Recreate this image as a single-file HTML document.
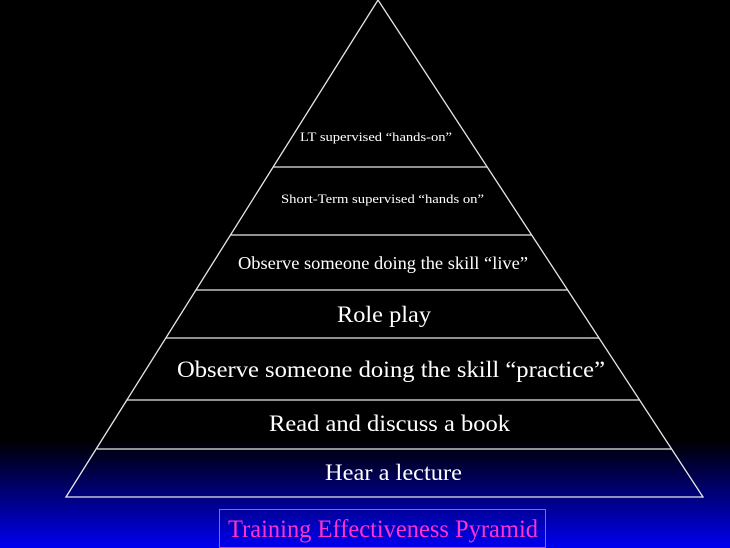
<!DOCTYPE html>
<html><head><style>
html,body{margin:0;padding:0}
body{width:730px;height:548px;overflow:hidden;background:linear-gradient(to bottom,#000 0px,#000 440px,#0000f0 548px);position:relative;font-family:"Liberation Serif",serif}
svg{position:absolute;left:0;top:0}
</style></head><body>
<svg width="730" height="548" viewBox="0 0 730 548">
<g stroke="#e8e8e8" stroke-width="1.3" fill="none">
<polygon points="378,0 66,497 703,497"/>
<line x1="273" y1="167" x2="487" y2="167"/>
<line x1="230" y1="235" x2="532" y2="235"/>
<line x1="196" y1="290" x2="568" y2="290"/>
<line x1="166" y1="338" x2="599" y2="338"/>
<line x1="127" y1="400" x2="640" y2="400"/>
<line x1="97" y1="449" x2="672" y2="449"/>
</g>
<g fill="#fff" font-family="Liberation Serif, serif" lengthAdjust="spacingAndGlyphs">
<text x="300" y="141" font-size="13" textLength="152" lengthAdjust="spacingAndGlyphs">LT supervised “hands-on”</text>
<text x="281" y="203" font-size="13" textLength="203" lengthAdjust="spacingAndGlyphs">Short-Term supervised  “hands on”</text>
<text x="238" y="269" font-size="18" textLength="290" lengthAdjust="spacingAndGlyphs">Observe someone doing the skill “live”</text>
<text x="337" y="322" font-size="23" textLength="94" lengthAdjust="spacingAndGlyphs">Role play</text>
<text x="177" y="377" font-size="23" textLength="428" lengthAdjust="spacingAndGlyphs">Observe someone doing the skill “practice”</text>
<text x="269" y="431" font-size="23" textLength="241" lengthAdjust="spacingAndGlyphs">Read and discuss a book</text>
<text x="325" y="480" font-size="23" textLength="137" lengthAdjust="spacingAndGlyphs">Hear a lecture</text>
</g>
<rect x="219.5" y="509.5" width="326" height="38" fill="none" stroke="#e040c0" stroke-width="1"/>
<text x="228" y="537" font-size="25" fill="#ff33cc" font-family="Liberation Serif, serif" textLength="310" lengthAdjust="spacingAndGlyphs">Training Effectiveness Pyramid</text>
</svg>
</body></html>
